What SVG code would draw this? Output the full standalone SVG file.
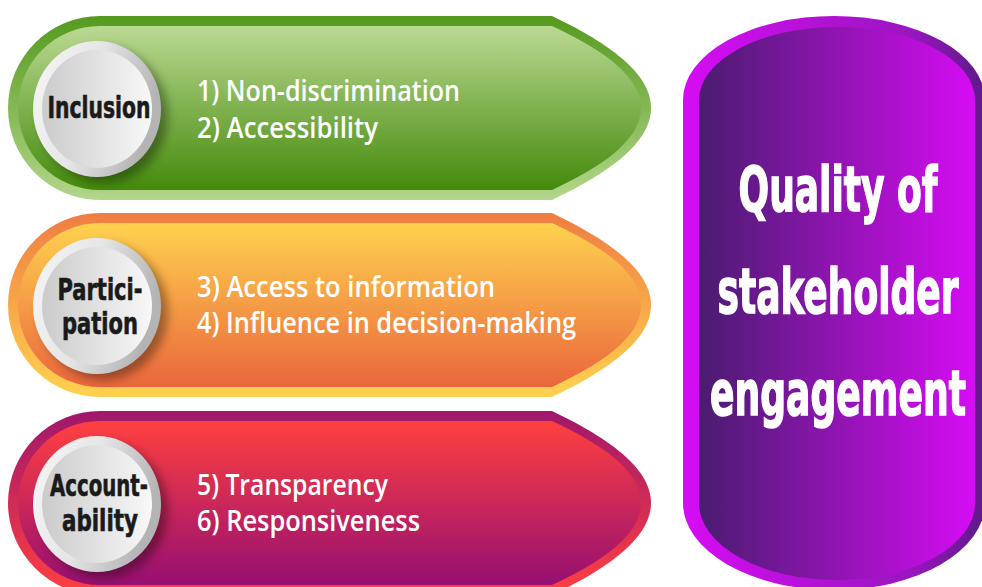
<svg xmlns="http://www.w3.org/2000/svg" width="982" height="587" viewBox="0 0 982 587">
<style>
.lbl{font-family:"Liberation Sans Narrow","DejaVu Sans Condensed","DejaVu Sans",sans-serif;font-weight:bold;font-size:30px;fill:#1a1a1a;stroke:#1a1a1a;stroke-width:0.6;text-anchor:middle}
.item{font-family:"Open Sans","Noto Sans",sans-serif;font-weight:600;font-size:28px;fill:#ffffff}
.title{font-family:"Liberation Sans Narrow","DejaVu Sans Condensed","DejaVu Sans",sans-serif;font-weight:bold;font-size:41px;fill:#ffffff;stroke:#ffffff;stroke-width:1;text-anchor:middle}
</style>
<defs>
<linearGradient id="gO" x1="0" y1="0" x2="0" y2="1"><stop offset="0" stop-color="#559a1e"/><stop offset="1" stop-color="#b3d68b"/></linearGradient>
<linearGradient id="gI" x1="0" y1="0" x2="0" y2="1"><stop offset="0" stop-color="#bad992"/><stop offset="1" stop-color="#448a0c"/></linearGradient>
<linearGradient id="oO" x1="0" y1="0" x2="0" y2="1"><stop offset="0" stop-color="#ef7d42"/><stop offset="1" stop-color="#ffd24f"/></linearGradient>
<linearGradient id="oI" x1="0" y1="0" x2="0" y2="1"><stop offset="0" stop-color="#ffd24f"/><stop offset="1" stop-color="#ea663c"/></linearGradient>
<linearGradient id="mO" x1="0" y1="0" x2="0" y2="1"><stop offset="0" stop-color="#a0176c"/><stop offset="1" stop-color="#ff4040"/></linearGradient>
<linearGradient id="mI" x1="0" y1="0" x2="0" y2="1"><stop offset="0" stop-color="#ff4040"/><stop offset="1" stop-color="#960f72"/></linearGradient>
<linearGradient id="pO" x1="0" y1="0" x2="1" y2="0"><stop offset="0" stop-color="#d60cf4"/><stop offset="0.75" stop-color="#9a16c0"/><stop offset="1" stop-color="#5c1a88"/></linearGradient>
<linearGradient id="pI" x1="0" y1="0" x2="1" y2="0"><stop offset="0" stop-color="#4a1c70"/><stop offset="1" stop-color="#d60cf4"/></linearGradient>
<linearGradient id="ring" x1="0" y1="0" x2="1" y2="0.3"><stop offset="0" stop-color="#f6f6f6"/><stop offset="0.5" stop-color="#e6e6e6"/><stop offset="1" stop-color="#b4b4b4"/></linearGradient>
<linearGradient id="disc" x1="0" y1="0" x2="1" y2="0"><stop offset="0" stop-color="#cbcbcb"/><stop offset="1" stop-color="#f8f8f8"/></linearGradient>
<filter id="sh" x="-30%" y="-30%" width="160%" height="160%"><feGaussianBlur stdDeviation="5"/></filter>
<path id="bandOuter" d="M100,-92 L552,-92 C600,-69 651,-38 651,0 C651,38 600,69 552,92 L100,92 A92,92 0 0 1 100,-92 Z"/>
<path id="bandInner" d="M100,-82 L552,-82 C597,-61 641,-34 641,0 C641,34 597,61 552,82 L100,82 A82,82 0 0 1 100,-82 Z"/>
<g id="knob">
<ellipse cx="104" cy="7" rx="64" ry="68" fill="#000" opacity="0.35" filter="url(#sh)"/>
<ellipse cx="97" cy="1" rx="64" ry="68" fill="url(#ring)"/>
<ellipse cx="97" cy="1" rx="55" ry="59" fill="url(#disc)"/>
</g>
</defs>

<g id="inclusion" transform="translate(0,108)">
<use href="#bandOuter" fill="url(#gO)"/>
<use href="#bandInner" fill="url(#gI)"/>
<use href="#knob"/>
<text class="lbl" x="99" y="10" textLength="103" lengthAdjust="spacingAndGlyphs">Inclusion</text>
<text class="item" x="197" y="-7" textLength="263" lengthAdjust="spacingAndGlyphs">1) Non-discrimination</text>
<text class="item" x="197" y="30" textLength="181" lengthAdjust="spacingAndGlyphs">2) Accessibility</text>
</g>

<g id="participation" transform="translate(0,305)">
<use href="#bandOuter" fill="url(#oO)"/>
<use href="#bandInner" fill="url(#oI)"/>
<use href="#knob"/>
<text class="lbl" x="100" y="-5" textLength="85" lengthAdjust="spacingAndGlyphs">Partici-</text>
<text class="lbl" x="100" y="29" textLength="76" lengthAdjust="spacingAndGlyphs">pation</text>
<text class="item" x="197" y="-8" textLength="298" lengthAdjust="spacingAndGlyphs">3) Access to information</text>
<text class="item" x="197" y="28" textLength="379" lengthAdjust="spacingAndGlyphs">4) Influence in decision-making</text>
</g>

<g id="accountability" transform="translate(0,503)">
<use href="#bandOuter" fill="url(#mO)"/>
<use href="#bandInner" fill="url(#mI)"/>
<use href="#knob"/>
<text class="lbl" x="99" y="-7" textLength="98" lengthAdjust="spacingAndGlyphs">Account-</text>
<text class="lbl" x="100" y="28" textLength="76" lengthAdjust="spacingAndGlyphs">ability</text>
<text class="item" x="197" y="-8" textLength="191" lengthAdjust="spacingAndGlyphs">5) Transparency</text>
<text class="item" x="197" y="28" textLength="223" lengthAdjust="spacingAndGlyphs">6) Responsiveness</text>
</g>

<g id="quality">
<path d="M683,100 A151,84 0 0 1 985,100 L985,503 A151,87 0 0 1 683,503 Z" fill="url(#pO)"/>
<path d="M699,100 A138,73 0 0 1 975,100 L975,503 A138,77 0 0 1 699,503 Z" fill="url(#pI)"/>
<text class="title" transform="translate(838,211) scale(1,1.51)" x="0" y="0" textLength="199" lengthAdjust="spacingAndGlyphs">Quality of</text>
<text class="title" transform="translate(838,313) scale(1,1.51)" x="0" y="0" textLength="241" lengthAdjust="spacingAndGlyphs">stakeholder</text>
<text class="title" transform="translate(838,415) scale(1,1.51)" x="0" y="0" textLength="256" lengthAdjust="spacingAndGlyphs">engagement</text>
</g>

<g id="connectors"/>
</svg>
